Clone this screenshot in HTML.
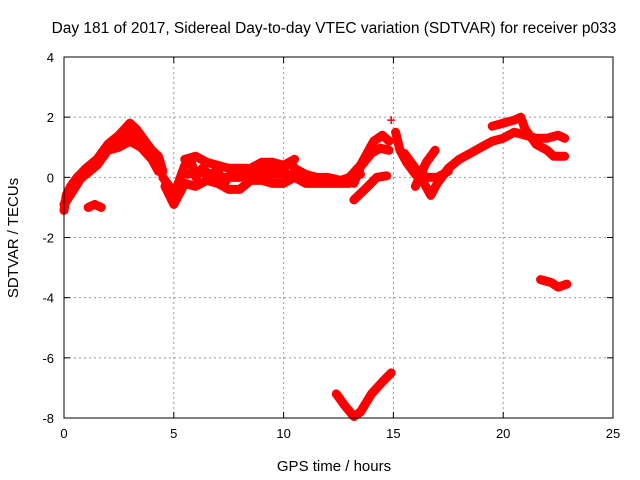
<!DOCTYPE html>
<html><head><meta charset="utf-8"><style>
body{margin:0;background:#fff;}
svg{display:block;font-family:"Liberation Sans",sans-serif;}
</style></head><body>
<svg id="chart" width="640" height="480" viewBox="0 0 640 480">
<text x="334" y="33" font-size="15.5" text-anchor="middle">Day 181 of 2017, Sidereal Day-to-day VTEC variation (SDTVAR) for receiver p033</text>
<text x="334" y="471" font-size="15" text-anchor="middle">GPS time / hours</text>
<text transform="translate(18,238) rotate(-90)" font-size="15" text-anchor="middle">SDTVAR / TECUs</text>
<g id="grid"></g><g id="ticks"></g><g id="marks"></g>
<rect x="64" y="57" width="549" height="361" fill="none" stroke="#000" stroke-width="1"/>
</svg>
<script>
const xTicks=[0,5,10,15,20,25];
const yTicks=[4,2,0,-2,-4,-6,-8];
const trackEarly=[[0,-1.1],[0.1,-0.6],[0.3,-0.3],[0.6,0],[1,0.3],[1.5,0.6],[2,1.1],[2.5,1.4],[3,1.8],[3.3,1.6],[3.6,1.3],[4,0.9],[4.3,0.7],[4.5,0.2]];
const trackEarlyMidBand=[[0.1,-0.8],[0.8,0],[1.5,0.5],[2,1.0],[2.5,1.2],[3,1.5],[3.5,1.3],[4,0.8],[4.4,0.4]];
const trackEarlyLow=[[0,-0.9],[0.5,-0.2],[1.5,0.4],[2,0.9],[2.5,1.0],[3,1.2],[3.5,1.0],[4,0.6],[4.3,0.2]];
const trackIsland=[[1.1,-1.0],[1.4,-0.9],[1.7,-1.0]];
const trackMid=[[4.5,0],[4.8,-0.3],[5,-0.6],[5.2,-0.2],[5.5,0.4],[5.8,0.5],[6,0],[6.3,0.3],[6.6,0.1],[7,0.2],[7.3,-0.2],[7.6,0.1],[8,0.2],[8.3,0],[8.6,0.3],[9,0.4],[9.5,0.3],[10,0.3],[10.3,0.5],[10.5,0.3],[11,0.1],[11.5,0],[12,0],[12.6,-0.1],[13,0],[13.5,0.1]];
const trackMidLow=[[4.6,-0.3],[5,-0.9],[5.5,-0.2],[6,-0.3],[6.5,-0.1],[7,-0.2],[7.5,-0.4],[8,-0.4],[8.5,-0.1],[9,-0.1],[9.5,-0.2],[10,-0.2],[10.5,0],[11,-0.2],[12,-0.2],[13,-0.2]];
const trackMidHigh=[[5.5,0.6],[6,0.7],[6.5,0.5],[7,0.4],[7.5,0.3],[8.5,0.3],[9,0.5],[9.5,0.5],[10,0.4],[10.5,0.6]];
const trackMidFill=[[5.6,0.1],[6.2,0.2],[6.8,0.0],[7.4,0.0],[8,0.0],[8.8,0.1],[9.5,0.1],[10.2,0.1],[11,-0.1],[12,-0.1]];
const trackArmUp=[[13,0],[13.5,0.4],[14.1,1.2],[14.5,1.4],[14.8,1.2]];
const trackArmMid=[[13.2,-0.2],[13.5,0.35],[14,0.8],[14.4,0.97],[14.8,0.9]];
const trackArmLow=[[13.2,-0.75],[13.7,-0.4],[14.25,0],[14.7,0.05]];
const trackRight=[[15.1,1.5],[15.3,0.9],[15.6,0.5],[16,0.1],[16.4,-0.2],[16.7,-0.6],[17,-0.2],[17.5,0.3],[18,0.6],[18.5,0.8],[19,1.0],[19.5,1.2],[20,1.3],[20.5,1.5],[21,1.4],[21.5,1.3],[22,1.3],[22.5,1.4],[22.8,1.3]];
const trackRightFill=[[15.5,0.8],[16,0.3],[16.5,0],[17,0],[17.5,0.2]];
const trackRightUp=[[16,-0.3],[16.5,0.5],[16.9,0.9]];
const trackRightHigh=[[19.5,1.7],[20,1.8],[20.5,1.9],[20.8,2.0],[21,1.6],[21.5,1.1],[22,0.9],[22.3,0.7],[22.8,0.7]];
const trackSpike=[[14.9,1.9]];
const trackBottom=[[12.4,-7.2],[12.8,-7.6],[13.2,-7.95],[13.5,-7.8],[14,-7.2],[14.5,-6.8],[14.9,-6.5]];
const trackNeg=[[21.7,-3.4],[22.2,-3.5],[22.5,-3.65],[22.9,-3.55]];
const tracks=[trackEarly,trackEarlyMidBand,trackEarlyLow,trackIsland,trackMid,trackMidLow,trackMidHigh,trackMidFill,trackArmUp,trackArmMid,trackArmLow,trackRight,trackRightFill,trackRightUp,trackRightHigh,trackSpike,trackBottom,trackNeg];
const X0=64,X1=613,Y0=418,Y1=57,xmin=0,xmax=25,ymin=-8,ymax=4;
const sx=t=>X0+(t-xmin)/(xmax-xmin)*(X1-X0);
const sy=v=>Y0-(v-ymin)/(ymax-ymin)*(Y0-Y1);
const NS="http://www.w3.org/2000/svg";
const grid=document.getElementById('grid'),ticks=document.getElementById('ticks'),marks=document.getElementById('marks');
function mk(tag,attrs,parent){const e=document.createElementNS(NS,tag);for(const k in attrs)e.setAttribute(k,attrs[k]);parent.appendChild(e);return e;}
xTicks.forEach(t=>{const x=sx(t);
 if(t>xmin&&t<xmax){const g=mk('line',{x1:x,x2:x,y1:Y1,y2:Y0,stroke:'#999','stroke-dasharray':'2,3'},grid);
 
 }
 mk('line',{x1:x,x2:x,y1:Y0,y2:Y0-6,stroke:'#000'},ticks);mk('line',{x1:x,x2:x,y1:Y1,y2:Y1+6,stroke:'#000'},ticks);
 const l=mk('text',{x:x,y:Y0+20,'font-size':13,'text-anchor':'middle'},ticks);l.textContent=t;
 
 });
yTicks.forEach(v=>{const y=sy(v);
 if(v>ymin&&v<ymax){const g=mk('line',{x1:X0,x2:X1,y1:y,y2:y,stroke:'#999','stroke-dasharray':'2,3'},grid);
 
 }
 mk('line',{x1:X0,x2:X0+6,y1:y,y2:y,stroke:'#000'},ticks);mk('line',{x1:X1,x2:X1-6,y1:y,y2:y,stroke:'#000'},ticks);
 const l=mk('text',{x:X0-10,y:y+5,'font-size':13,'text-anchor':'end'},ticks);l.textContent=v;
 
 });
tracks.forEach(tr=>{
 const p=mk('polyline',{points:tr.map(d=>sx(d[0])+','+sy(d[1])).join(' '),fill:'none',stroke:'#f00','stroke-width':9,'stroke-linejoin':'round','stroke-linecap':'round'},marks);
 
 
 tr.forEach(d=>{const x=sx(d[0]),y=sy(d[1]);
  const m=mk('path',{d:`M${x-4},${y}H${x+4}M${x},${y-4}V${y+4}`,stroke:'#f00','stroke-width':1.5},marks);
  
  });
});
</script>
</body></html>
